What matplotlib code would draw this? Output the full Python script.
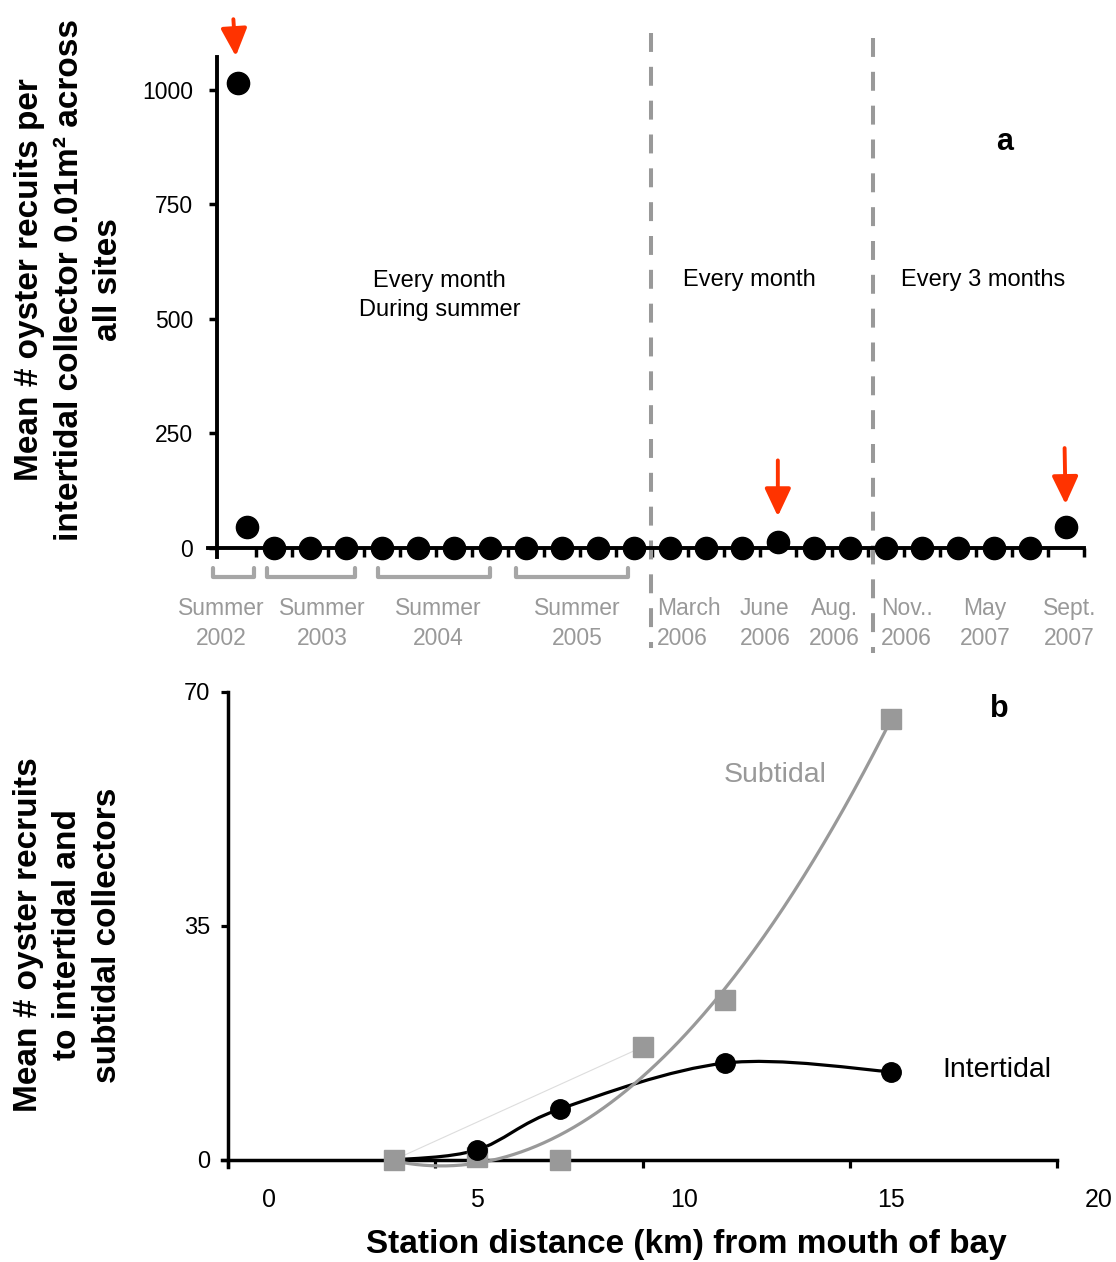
import numpy as np
import matplotlib
matplotlib.use('Agg')
import matplotlib.pyplot as plt
from matplotlib.path import Path
from matplotlib.patches import PathPatch

plt.rcParams['font.family'] = ['Liberation Sans', 'DejaVu Sans']

# ---- panel a: mean recruits per intertidal collector, in sampling order
sample_x = [0, 0.25, 1, 2, 3, 4, 5, 6, 7, 8, 9, 10, 11, 12,
            13, 14, 15, 16, 17, 18, 19, 20, 21, 22, 23]
recruits = [1015, 45, 0, 0, 0, 0, 0, 0, 0, 0, 0, 0, 0, 0,
            0, 0, 12, 0, 0, 0, 0, 0, 0, 0, 45]
highlight = [0, 16, 24]          # points flagged with red arrows

period_labels = ['Summer\n2002', 'Summer\n2003', 'Summer\n2004', 'Summer\n2005',
                 'March\n2006', 'June\n2006', 'Aug.\n2006', 'Nov..\n2006',
                 'May\n2007', 'Sept.\n2007']
period_pos = [-0.44, 2.36, 5.56, 9.44, 12.53, 14.64, 16.58, 18.58, 20.75, 23.1]
summer_spans = [(-0.69, 0.47), (0.81, 3.25), (3.89, 7.0), (7.72, 10.83)]
regime_breaks = [11.47, 17.64]

# ---- panel b: recruits vs station distance
distance = [3, 5, 7, 9, 11, 15]
subtidal = [0, 0.4, 0, 16.9, 23.9, 66.0]
inter_dist = [3, 5, 7, 11, 15]
intertidal = [0, 1.5, 7.6, 14.5, 13.2]
xtick_labels = [0, 5, 10, 15, 20]

GRAY = '#999999'
RED = '#FF3300'


def smooth_path(xs, ys):
    # excel-like smoothed line as cubic bezier segments
    pts = np.column_stack([xs, ys]).astype(float)
    ext = np.vstack([pts[0], pts, pts[-1]])
    verts = [pts[0]]
    codes = [Path.MOVETO]
    for i in range(1, len(ext) - 2):
        p0, p1, p2, p3 = ext[i - 1], ext[i], ext[i + 1], ext[i + 2]
        verts += [p1 + (p2 - p0) / 6.0, p2 - (p3 - p1) / 6.0, p2]
        codes += [Path.CURVE4] * 3
    return Path(verts, codes)


fig = plt.figure(figsize=(11.16, 12.62), dpi=100)

# ================= panel a
ax1 = fig.add_axes([208 / 1116, 1 - 557 / 1262, (1084 - 208) / 1116, 500 / 1262])
ax1.set_xlim(-0.82, 23.5)
ax1.set_ylim(-20, 1072)
for s in ['top', 'right']:
    ax1.spines[s].set_visible(False)
ax1.spines['left'].set_position(('data', -0.58))
ax1.spines['bottom'].set_position(('data', 0))
for s in ['left', 'bottom']:
    ax1.spines[s].set_linewidth(2.8)

ax1.set_yticks([0, 250, 500, 750, 1000])
ax1.set_xticks(np.arange(0.5, 24, 1))
ax1.tick_params(axis='x', direction='out', length=6.5, width=2.5, labelbottom=False)
ax1.tick_params(axis='y', direction='out', length=6, width=2.5, labelsize=16.5, pad=11)

ax1.plot(sample_x, recruits, 'o', color='black', markersize=16, zorder=4, clip_on=False)

for xb, ytop, ybot in zip(regime_breaks, [1125, 1114], [-218, -229]):
    ax1.plot([xb, xb], [ytop, ybot], color=GRAY, lw=2.9, ls=(0, (4.7, 3.7)),
             clip_on=False, zorder=2)

for x0, x1 in summer_spans:
    ax1.plot([x0, x0, x1, x1], [-44, -63, -63, -44], color='#A6A6A6', lw=3,
             solid_joinstyle='round', solid_capstyle='round', clip_on=False)

for lab, xp in zip(period_labels, period_pos):
    ax1.text(xp, -166, lab, ha='center', va='center', fontsize=16.5, color=GRAY,
             linespacing=1.38, multialignment='left' if lab.startswith('March') else 'center')

ax1.text(5.61, 551, 'Every month\nDuring summer', ha='center', va='center',
         fontsize=17, linespacing=1.45)
ax1.text(14.2, 586, 'Every month', ha='center', va='center', fontsize=17)
ax1.text(20.69, 586, 'Every 3 months', ha='center', va='center', fontsize=17)
ax1.text(21.3, 887, 'a', ha='center', va='center', fontsize=22, fontweight='bold')

for i, dx, total, gap in zip(highlight, [-3, 0, -1], [46, 59, 57], [19.4, 18.7, 16.6]):
    ax1.annotate('', xy=(sample_x[i], recruits[i]), xytext=(dx, total),
                 textcoords='offset points', annotation_clip=False,
                 arrowprops=dict(arrowstyle='-|>,head_length=1.7,head_width=0.8',
                                 mutation_scale=10, color=RED, lw=2.8,
                                 shrinkA=0, shrinkB=gap))

fig.text(69 / 1116, 1 - 280 / 1262,
         'Mean # oyster recuits per\nintertidal collector 0.01m\u00b2 across\nall sites',
         rotation=90, ha='center', va='center', fontsize=24, fontweight='bold',
         linespacing=1.34, multialignment='center')

# ================= panel b
ax2 = fig.add_axes([222 / 1116, 1 - 1167 / 1262, (1057 - 222) / 1116, 475 / 1262])
ax2.set_xlim(-1.145, 19)
ax2.set_ylim(-1.05, 70)
for s in ['top', 'right']:
    ax2.spines[s].set_visible(False)
ax2.spines['left'].set_position(('data', -1))
ax2.spines['bottom'].set_position(('data', 0))
for s in ['left', 'bottom']:
    ax2.spines[s].set_linewidth(2.5)
ax2.set_yticks([0, 35, 70])
ax2.set_xticks([-1, 4, 9, 14, 19])
ax2.tick_params(axis='x', direction='out', length=6, width=2.3, labelbottom=False)
ax2.tick_params(axis='y', direction='out', length=5, width=2.3, labelsize=17, pad=8)
for v in xtick_labels:
    ax2.text(v, -6, str(v), ha='center', va='center', fontsize=18, clip_on=False)

# faint connector left in the original between first and fourth subtidal points
ax2.plot([distance[0], distance[3]], [subtidal[0], subtidal[3]], color='#DDDDDD', lw=0.8, zorder=1)

ax2.add_patch(PathPatch(smooth_path(inter_dist, intertidal), fill=False,
                        edgecolor='black', lw=2.3, zorder=2, clip_on=False))
coef = np.polyfit(distance, subtidal, 2)
xs = np.linspace(distance[0], distance[-1], 200)
ax2.plot(xs, np.polyval(coef, xs), color=GRAY, lw=2.3, zorder=3, clip_on=False)

ax2.plot(distance, subtidal, 's', color=GRAY, markersize=14.5, zorder=4, clip_on=False)
ax2.plot(inter_dist[1:], intertidal[1:], 'o', color='black', markersize=14, zorder=5, clip_on=False)

ax2.text(12.2, 57.6, 'Subtidal', ha='center', va='center', fontsize=20.5, color=GRAY)
ax2.text(17.55, 13.5, 'Intertidal', ha='center', va='center', fontsize=20.5)
ax2.text(17.62, 67.5, 'b', ha='center', va='center', fontsize=22, fontweight='bold')

fig.text(686 / 1116, 1 - 1245 / 1262, 'Station distance (km) from mouth of bay',
         ha='center', va='center', fontsize=24, fontweight='bold')
fig.text(68 / 1116, 1 - 935 / 1262,
         'Mean # oyster recruits\nto intertidal and\nsubtidal collectors',
         rotation=90, ha='center', va='center', fontsize=24, fontweight='bold',
         linespacing=1.34, multialignment='center')

fig.savefig('out.png', dpi=100)
